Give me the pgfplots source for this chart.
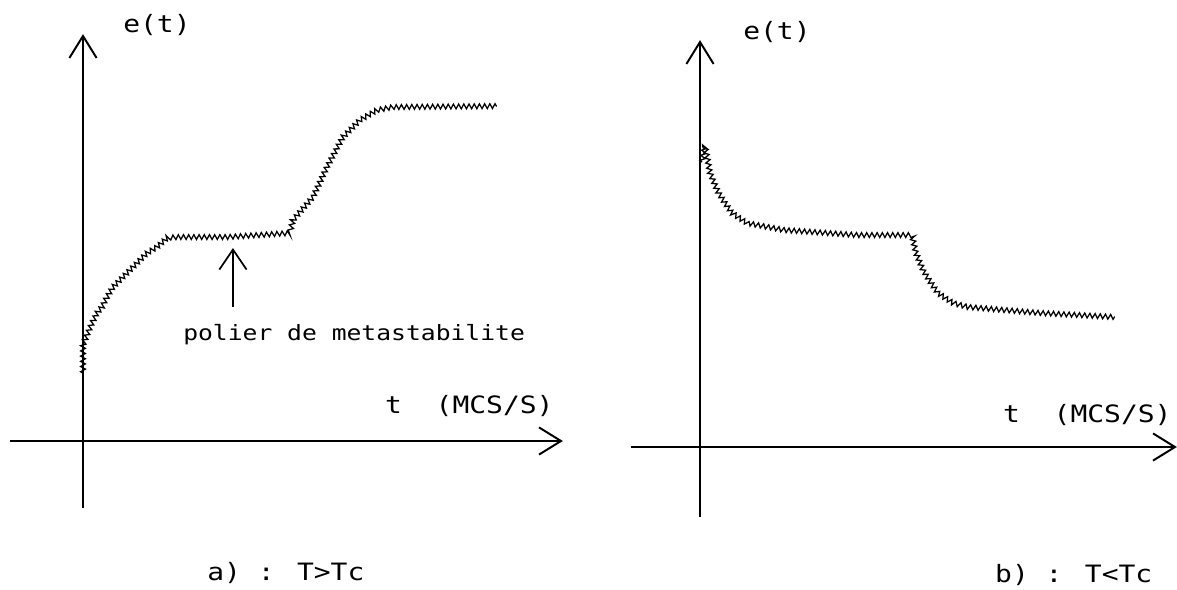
\documentclass[border=0pt]{standalone}
\usepackage{fontspec}
\newfontfamily\plotfont[FakeStretch=1.17]{DejaVu Sans Mono}
\usepackage{pgfplots}
\pgfplotsset{compat=1.18}
\usetikzlibrary{arrows.meta,decorations.pathmorphing}

\pgfplotsset{
  sketch/.style={
    x=0.025cm, y=0.025cm,
    axis lines=middle,
    axis line style={line width=1.6pt,
      -{Straight Barb[length=0.55cm,width=0.68cm,line width=1.4pt]}},
    xtick=\empty, ytick=\empty,
    enlargelimits=false,
    clip=false,
    anchor=origin,
  },
}
\tikzset{
  zz/.style={black, line width=0.9pt, line join=miter, decorate,
    decoration={zigzag, segment length=0.13cm, amplitude=0.06cm}},
  lab/.style={font=\plotfont\fontsize{17}{20}\selectfont, anchor=west, inner sep=0pt},
}

\begin{document}
\begin{tikzpicture}
\useasboundingbox (0,0) rectangle (29.425cm,-14.725cm);

% a) T > Tc
\begin{axis}[sketch, at={(2.075cm,-11.025cm)},
    xmin=-73, xmax=480, ymin=-67, ymax=407]
  \addplot[zz] coordinates {
    (0,68) (0,96) (2,101) (9,118) (14,128) (19,134) (24,144) (30,154)
    (37,161) (44,168) (54,178) (64,188) (74,194) (84,203) (94,204)
    (144,204) (207,208) (210,221) (230,244) (244,274) (260,304)
    (277,321) (294,331) (310,334) (414,335)
  };
  \addplot[line width=1.2pt,
    -{Straight Barb[length=0.5cm,width=0.68cm,line width=1.2pt]}]
    coordinates {(150,134) (150,193)};
  \node[lab] at (axis cs:40,416) {e(t)};
  \node[lab] at (axis cs:302,35) {t\ \ (MCS/S)};
  \node[lab, font=\plotfont\fontsize{15}{18}\selectfont] at (axis cs:100,106) {polier de metastabilite};
  \node[lab] at (axis cs:124,-132) {a) : T>Tc};
\end{axis}

% b) T < Tc
\begin{axis}[sketch, at={(17.5cm,-11.175cm)},
    xmin=-69, xmax=477, ymin=-70, ymax=407]
  \addplot[zz] coordinates {
    (2,285) (5,302) (10,274) (18,255) (25,244) (32,234) (47,224)
    (84,217) (157,212) (212,212) (216,194) (223,177) (231,164)
    (238,154) (253,144) (268,140) (341,134) (415,130)
  };
  \node[lab] at (axis cs:43,415) {e(t)};
  \node[lab] at (axis cs:303,32) {t\ \ (MCS/S)};
  \node[lab] at (axis cs:295,-128) {b) : T<Tc};
\end{axis}
\end{tikzpicture}
\end{document}
